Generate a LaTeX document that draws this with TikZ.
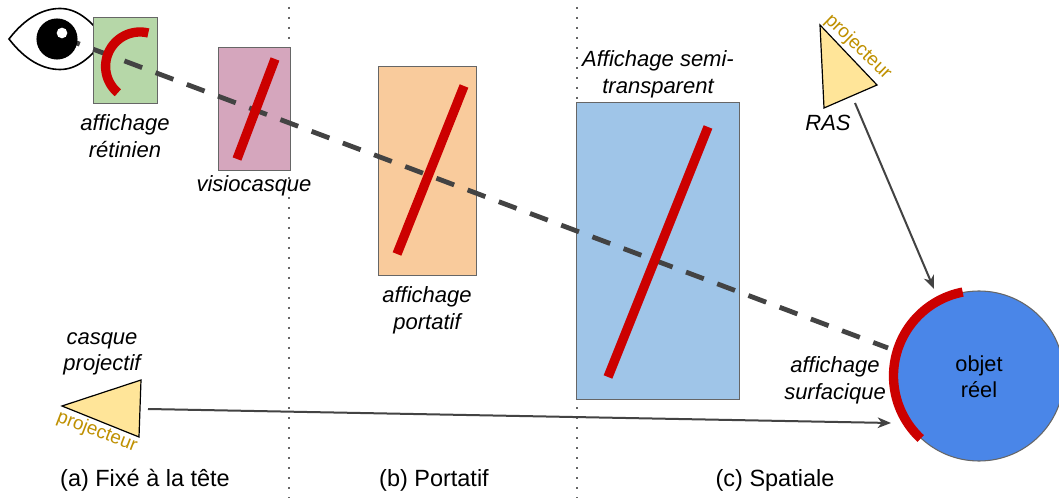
\documentclass[tikz,border=0pt]{standalone}
\usepackage{fontspec}
\setmainfont{Liberation Sans}
\usetikzlibrary{arrows.meta}
\definecolor{boxgrey}{HTML}{666666}
\definecolor{linegrey}{HTML}{434343}
\definecolor{redc}{HTML}{CC0000}
\definecolor{greenf}{HTML}{B6D7A8}
\definecolor{pinkf}{HTML}{D5A6BD}
\definecolor{orangef}{HTML}{F9CB9C}
\definecolor{bluef}{HTML}{9FC5E8}
\definecolor{objf}{HTML}{4A86E8}
\definecolor{triangf}{HTML}{FFE599}
\definecolor{projc}{HTML}{BF9000}
\tikzset{
  x=0.75pt,y=-0.75pt,
  panel/.style={draw=boxgrey,line width=0.75pt},
  redbar/.style={draw=redc,line width=7pt},
  sightline/.style={draw=linegrey,line width=3.6pt,dash pattern=on 14.2pt off 10.8pt},
  sepline/.style={draw=boxgrey,line width=1.5pt,dash pattern=on 1.5pt off 6pt},
  ray/.style={draw=linegrey,line width=1.5pt,-{Stealth[length=10pt,width=8pt,inset=3pt]}},
  tri/.style={draw=black,line width=0.9pt,fill=triangf,line join=miter},
  lab/.style={font=\fontsize{16.5}{20}\selectfont\itshape,align=center,inner sep=0pt,text=black},
  captext/.style={font=\fontsize{17.6}{21}\selectfont,align=center,inner sep=0pt,text=black},
  projtext/.style={font=\fontsize{14.2}{17}\selectfont,inner sep=0pt,text=projc},
}
\begin{document}
\begin{tikzpicture}
\useasboundingbox (0,0) rectangle (1059,498);
\clip (0,0) rectangle (1059,498);
\fill[white] (0,0) rectangle (1059,498);
% separators
\coordinate (s1a) at (289,7); \coordinate (s1b) at (289,498);
\coordinate (s2a) at (577,7); \coordinate (s2b) at (577,498);
\draw[sepline] (s1a) -- (s1b);
\draw[sepline] (s2a) -- (s2b);
% eye
\draw[black,line width=1.2pt,fill=white] (9,39) .. controls (25,18) and (43,8.5) .. (60,8.5)
  .. controls (76,8.5) and (90,19) .. (105,39) .. controls (90,59) and (76,69.5) .. (60,69.5)
  .. controls (43,69.5) and (25,60) .. cycle;
% panels
\draw[panel,fill=greenf] (93,18) rectangle (157,104);
\draw[panel,fill=pinkf] (218,48) rectangle (290,171);
\draw[panel,fill=orangef] (378,67) rectangle (476,276);
\draw[panel,fill=bluef] (576,103) rectangle (739,400);
% object
\node[circle,draw=boxgrey,line width=0.8pt,fill=objf,minimum size=127.5pt,inner sep=0pt] (obj) at (979,376) {};
\node[font=\fontsize{16.3}{19.5}\selectfont,align=center,inner sep=0pt] (objl) at (979,377) {objet\\réel};
% sight line
\coordinate (sa) at (62,37.5); \coordinate (sb) at (888,348);
\draw[sightline] (sa) -- (sb);
% pupil
\fill[black] (57,39) circle[radius=15.4pt];
\fill[white] (62,33) circle[radius=4pt];
% red bars
\coordinate (r1a) at (275,59); \coordinate (r1b) at (237,159);
\coordinate (r2a) at (464,86); \coordinate (r2b) at (397,254);
\coordinate (r3a) at (708,127); \coordinate (r3b) at (608,377);
\draw[redbar] (r1a) -- (r1b);
\draw[redbar] (r2a) -- (r2b);
\draw[redbar] (r3a) -- (r3b);
\draw[redbar] plot[domain=76:230,samples=50] ({140+34.4*cos(\x)},{66.4-34.4*sin(\x)});
\draw[redbar] plot[domain=101:227,samples=60] ({979+85.5*cos(\x)},{376-85.5*sin(\x)});
% projectors
\coordinate (t1a) at (820,25); \coordinate (t1b) at (877,85); \coordinate (t1c) at (824,108);
\draw[tri] (t1a) -- (t1b) -- (t1c) -- cycle;
\coordinate (t2a) at (141,380); \coordinate (t2b) at (62,406); \coordinate (t2c) at (139,437);
\draw[tri] (t2a) -- (t2b) -- (t2c) -- cycle;
\node[projtext,rotate=-44] (p1) at (858,47) {projecteur};
\node[projtext,rotate=-21] (p2) at (97,432) {projecteur};
% rays
\coordinate (a1s) at (855,103); \coordinate (a1e) at (934,289);
\coordinate (a2s) at (148,409); \coordinate (a2e) at (891,423);
\draw[ray] (a1s) -- (a1e);
\draw[ray] (a2s) -- (a2e);
% labels
\node[lab] (l1) at (125,136) {affichage\\rétinien};
\node[lab] (l2) at (254,185.5) {visiocasque};
\node[lab] (l3) at (427,310) {affichage\\portatif};
\node[lab] (l4) at (658,74) {Affichage semi-\\transparent};
\node[lab] (l5) at (828,123) {RAS};
\node[lab] (l6) at (835,380) {affichage\\surfacique};
\node[lab] (l7) at (102,354) {casque\\projectif};
\node[captext] (c1) at (145,480) {(a) Fixé à la tête};
\node[captext] (c2) at (434,480) {(b) Portatif};
\node[captext] (c3) at (775,480) {(c) Spatiale};
\end{tikzpicture}
\end{document}
